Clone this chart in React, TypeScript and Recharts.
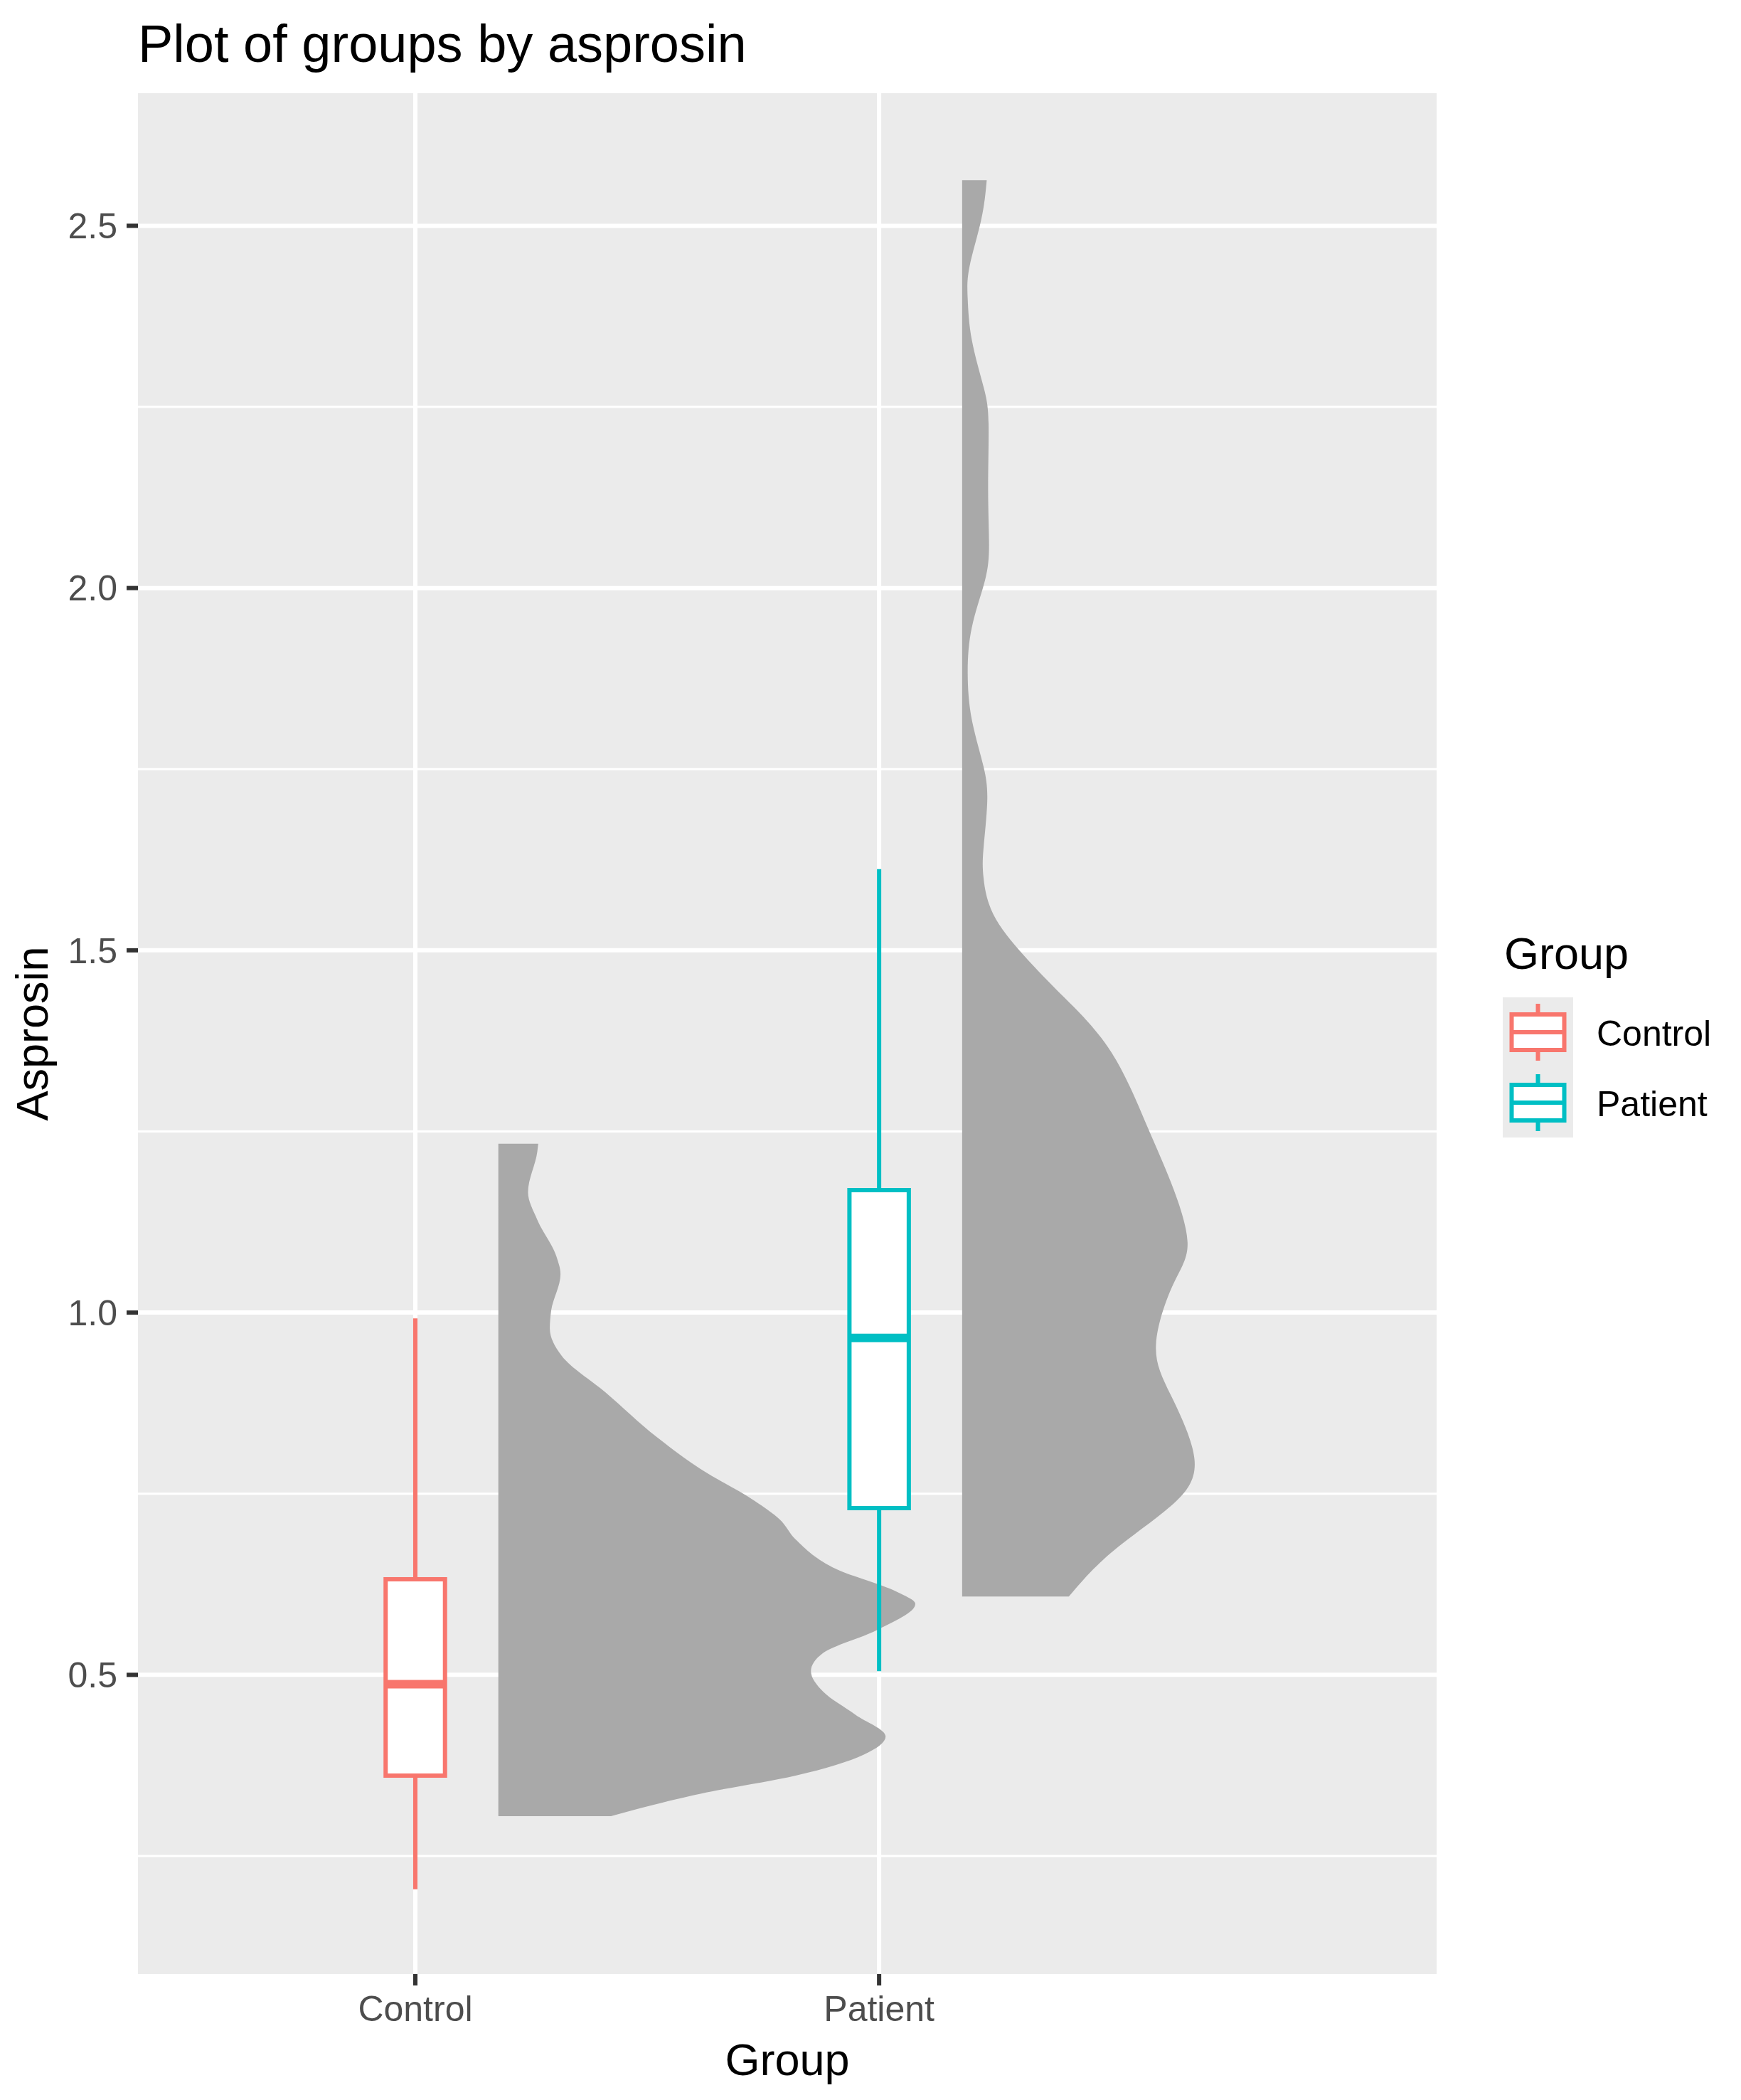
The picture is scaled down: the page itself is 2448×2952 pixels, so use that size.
import React from 'react';
import {
  ComposedChart, Area, XAxis, YAxis, CartesianGrid,
  ReferenceArea, ReferenceLine,
} from 'recharts';

const FONT = '"Liberation Sans", Arial, Helvetica, sans-serif';

const groups = ['Control', 'Patient'];
const groupColors = ['#F8766D', '#00BFC4'];

// boxplot summaries
const whiskerLow = [0.204, 0.505];
const q1 = [0.361, 0.73];
const median = [0.487, 0.965];
const q3 = [0.632, 1.169];
const whiskerHigh = [0.992, 1.612];

// half violins: asprosin value and density half-width
const controlViolinY = [
  0.305, 0.336, 0.361, 0.39, 0.415, 0.445, 0.477, 0.505, 0.53, 0.562, 0.598, 0.615, 0.646,
  0.687, 0.715, 0.74, 0.784, 0.828, 0.89, 0.94, 0.978, 1.003, 1.053, 1.078, 1.128, 1.166,
  1.222, 1.233,
];
const controlViolinW = [
  0.243, 0.436, 0.641, 0.788, 0.835, 0.77, 0.7, 0.674, 0.7, 0.817, 0.899, 0.858, 0.729,
  0.641, 0.606, 0.553, 0.436, 0.342, 0.231, 0.137, 0.111, 0.114, 0.134, 0.125, 0.084, 0.064,
  0.084, 0.086,
];
const patientViolinY = [
  0.608, 0.669, 0.733, 0.797, 0.886, 0.956, 1.039, 1.097, 1.18, 1.257, 1.359, 1.435, 1.493,
  1.55, 1.601, 1.64, 1.703, 1.754, 1.818, 1.882, 1.946, 2.01, 2.061, 2.137, 2.227, 2.278,
  2.342, 2.399, 2.444, 2.508, 2.563,
];
const patientViolinW = [
  0.23, 0.322, 0.45, 0.501, 0.45, 0.418, 0.455, 0.486, 0.45, 0.399, 0.322, 0.22, 0.133,
  0.067, 0.046, 0.046, 0.054, 0.046, 0.021, 0.012, 0.021, 0.049, 0.058, 0.056, 0.057, 0.046,
  0.021, 0.012, 0.016, 0.041, 0.053,
];

const yTicks = [0.5, 1, 1.5, 2, 2.5];
const yMinorTicks = [0.25, 0.75, 1.25, 1.75, 2.25];
const xTicks = [1, 2];

const VIOLIN_NUDGE = 0.179;
const BOX_HALF = 0.064;

const violinRows = (ys: number[], ws: number[], pos: number) =>
  ys.map((y, i) => ({ y, range: [pos + VIOLIN_NUDGE, pos + VIOLIN_NUDGE + ws[i]] }));

const controlRows = violinRows(controlViolinY, controlViolinW, 1);
const patientRows = violinRows(patientViolinY, patientViolinW, 2);
const allRows = [...controlRows, ...patientRows];

const Legend = () => (
  <svg width={2448} height={2952} style={{ position: 'absolute', left: 0, top: 0, pointerEvents: 'none' }}>
    <text x={194} y={87} fontSize={74} fill="#000">Plot of groups by asprosin</text>
    <text x={2115} y={1362} fontSize={63} fill="#000">Group</text>
    <rect x={2113} y={1402} width={99} height={197} fill="#EBEBEB" />
    {groups.map((g, i) => {
      const cy = 1451 + i * 99;
      const cx = 2162.5;
      const c = groupColors[i];
      return (
        <g key={g}>
          <line x1={cx} x2={cx} y1={cy - 40} y2={cy + 40} stroke={c} strokeWidth={6} />
          <rect x={cx - 37} y={cy - 25} width={74} height={50} fill="#fff" stroke={c} strokeWidth={6} />
          <line x1={cx - 37} x2={cx + 37} y1={cy} y2={cy} stroke={c} strokeWidth={6} />
          <text x={2245} y={cy + 19} fontSize={50} fill="#000">{g}</text>
        </g>
      );
    })}
  </svg>
);

export default function App() {
  return (
    <div style={{ position: 'absolute', left: 0, top: 0, width: 2448, height: 2952, background: '#fff', fontFamily: FONT }}>
      <ComposedChart
        width={2448}
        height={2952}
        layout="vertical"
        data={allRows}
        margin={{ top: 131, right: 428, bottom: 0, left: 0 }}
      >
        <CartesianGrid
          fill="#EBEBEB"
          stroke="#FFFFFF"
          strokeWidth={6}
          horizontalValues={yTicks}
          verticalValues={xTicks}
        />
        <CartesianGrid
          stroke="#FFFFFF"
          strokeWidth={3}
          horizontalValues={yMinorTicks}
          vertical={false}
        />
        <XAxis
          type="number"
          domain={[0.402, 3.202]}
          ticks={xTicks}
          allowDataOverflow
          height={177}
          axisLine={false}
          tickSize={16}
          tickMargin={14}
          tickLine={{ stroke: '#333333', strokeWidth: 6 }}
          tick={{ fill: '#4D4D4D', fontSize: 50 }}
          tickFormatter={(v: number) => groups[v - 1] ?? ''}
          label={{ value: 'Group', position: 'insideBottom', offset: 35, fontSize: 63, fill: '#000' }}
        />
        <YAxis
          type="number"
          dataKey="y"
          domain={[0.087, 2.683]}
          ticks={yTicks}
          reversed
          allowDataOverflow
          width={194}
          axisLine={false}
          tickSize={16}
          tickMargin={13}
          tickLine={{ stroke: '#333333', strokeWidth: 6 }}
          tick={{ fill: '#4D4D4D', fontSize: 50 }}
          tickFormatter={(v: number) => v.toFixed(1)}
          label={{
            value: 'Asprosin', angle: -90, position: 'insideLeft', offset: 45,
            fontSize: 63, fill: '#000', style: { textAnchor: 'middle' },
          }}
        />
        <Area
          data={controlRows}
          dataKey="range"
          type="monotone"
          fill="#A9A9A9"
          fillOpacity={1}
          stroke="none"
          dot={false}
          activeDot={false}
          isAnimationActive={false}
        />
        <Area
          data={patientRows}
          dataKey="range"
          type="natural"
          fill="#A9A9A9"
          fillOpacity={1}
          stroke="none"
          dot={false}
          activeDot={false}
          isAnimationActive={false}
        />
        {groups.map((g, i) => (
          <ReferenceLine
            key={`wl-${g}`}
            segment={[{ x: i + 1, y: whiskerLow[i] }, { x: i + 1, y: q1[i] }]}
            stroke={groupColors[i]}
            strokeWidth={6}
          />
        ))}
        {groups.map((g, i) => (
          <ReferenceLine
            key={`wh-${g}`}
            segment={[{ x: i + 1, y: q3[i] }, { x: i + 1, y: whiskerHigh[i] }]}
            stroke={groupColors[i]}
            strokeWidth={6}
          />
        ))}
        {groups.map((g, i) => (
          <ReferenceArea
            key={`box-${g}`}
            x1={i + 1 - BOX_HALF}
            x2={i + 1 + BOX_HALF}
            y1={q1[i]}
            y2={q3[i]}
            fill="#FFFFFF"
            fillOpacity={1}
            stroke={groupColors[i]}
            strokeWidth={6}
            strokeOpacity={1}
          />
        ))}
        {groups.map((g, i) => (
          <ReferenceLine
            key={`med-${g}`}
            segment={[{ x: i + 1 - BOX_HALF, y: median[i] }, { x: i + 1 + BOX_HALF, y: median[i] }]}
            stroke={groupColors[i]}
            strokeWidth={12}
          />
        ))}
      </ComposedChart>
      <Legend />
    </div>
  );
}
